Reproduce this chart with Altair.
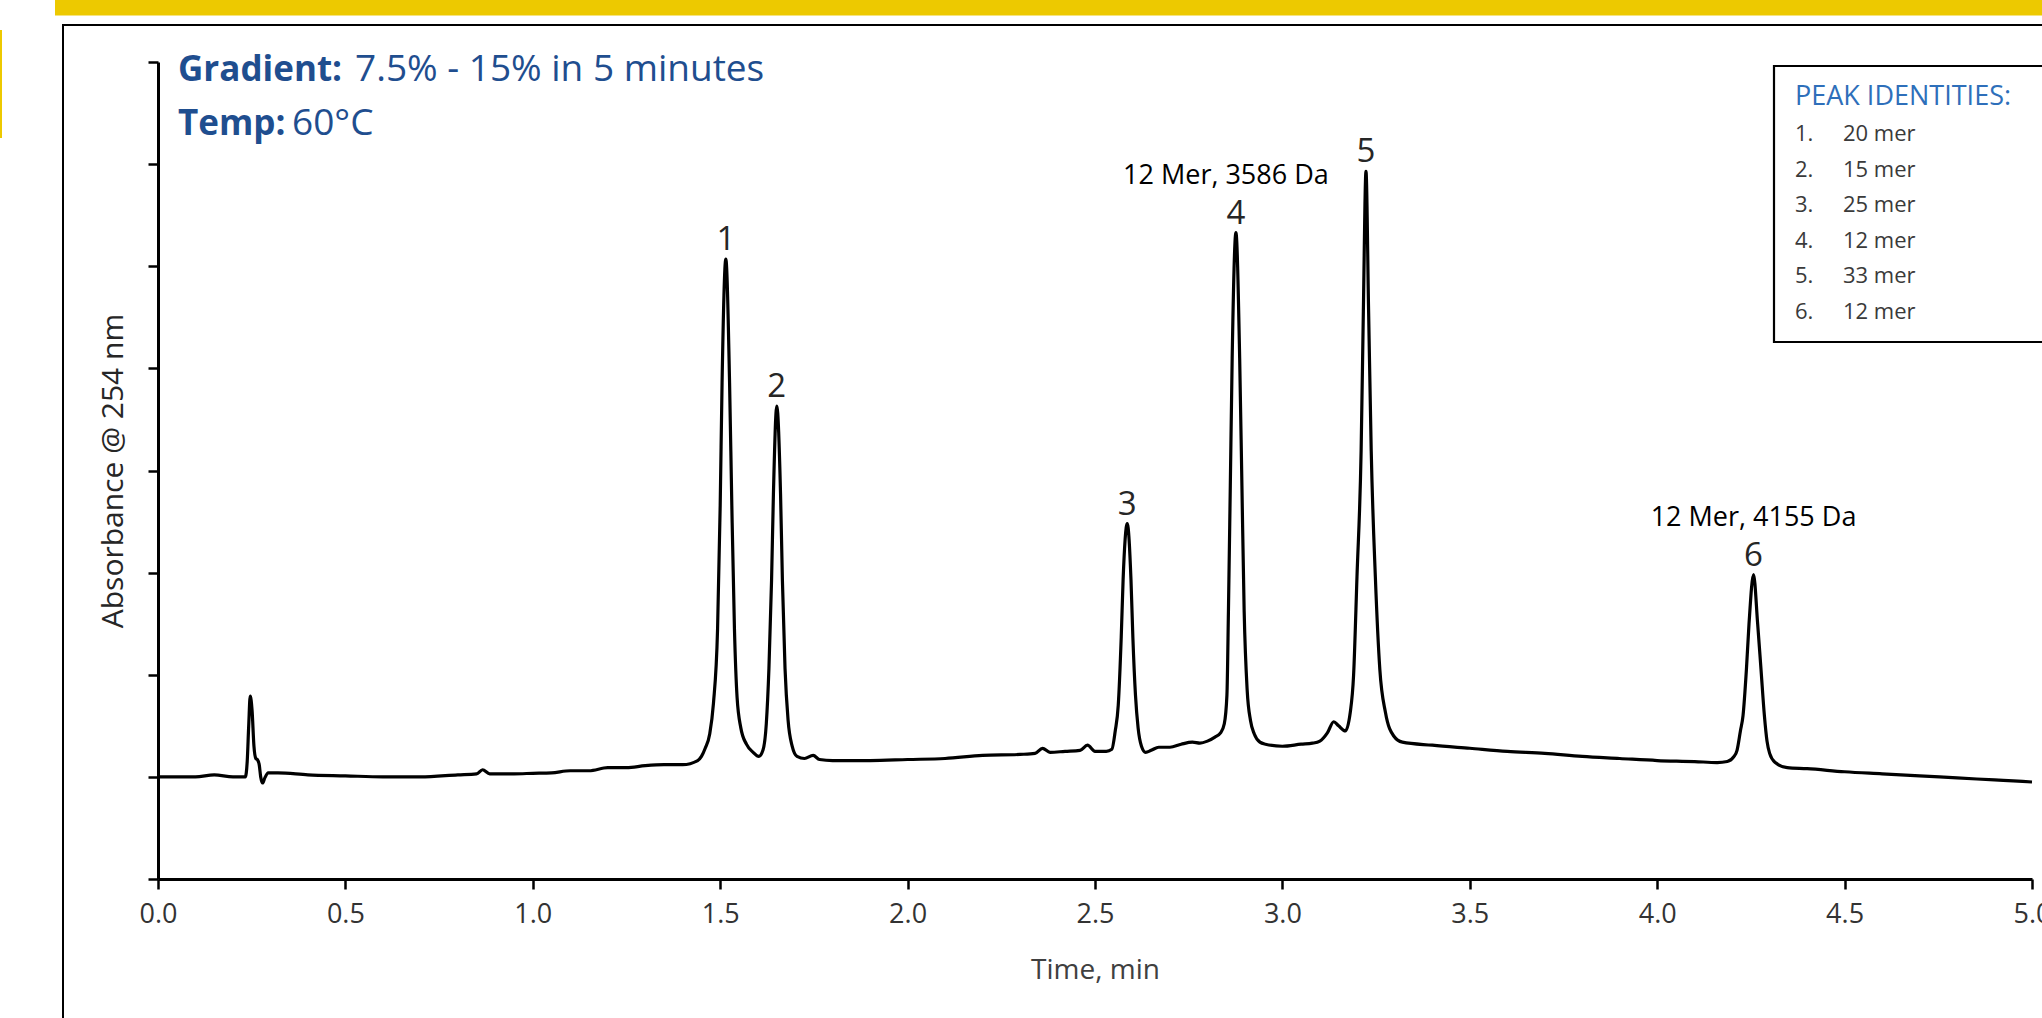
import altair as alt
import pandas as pd

# ---------------- data ----------------
time_min = [
    0.00, 0.05, 0.10, 0.15, 0.20, 0.233, 0.238, 0.242, 0.246, 0.251, 0.256, 0.261,
    0.265, 0.270, 0.274, 0.279, 0.285, 0.294, 0.32, 0.40, 0.50, 0.60, 0.70, 0.80,
    0.850, 0.866, 0.885, 0.95, 1.00, 1.05, 1.10, 1.15, 1.20, 1.25, 1.30, 1.35,
    1.40, 1.44, 1.450,
    1.460, 1.472, 1.482, 1.493, 1.500, 1.505, 1.515, 1.525, 1.531, 1.538, 1.545,
    1.555, 1.570, 1.588, 1.603,
    1.614, 1.623, 1.630, 1.637, 1.642, 1.651, 1.661, 1.666, 1.673, 1.681, 1.692,
    1.705, 1.725, 1.748, 1.765,
    1.80, 1.90, 2.00, 2.10, 2.20, 2.30, 2.34, 2.36, 2.38, 2.42, 2.46, 2.48, 2.50,
    2.53,
    2.545, 2.554, 2.562, 2.570, 2.575, 2.586, 2.596, 2.601, 2.608, 2.615, 2.624,
    2.635, 2.65,
    2.67, 2.70, 2.73, 2.76, 2.78, 2.80, 2.82,
    2.835, 2.845, 2.852, 2.856, 2.861, 2.866, 2.876, 2.886, 2.892, 2.898, 2.906,
    2.915, 2.925, 2.940, 2.955,
    3.00, 3.05, 3.08, 3.10, 3.12, 3.137, 3.150, 3.168,
    3.181, 3.190, 3.199, 3.210, 3.216, 3.223, 3.230, 3.237, 3.248, 3.260, 3.275,
    3.297, 3.32,
    3.40, 3.50, 3.60, 3.70, 3.80, 3.90, 4.00, 4.10, 4.16,
    4.187, 4.205, 4.213, 4.222, 4.229, 4.238, 4.245, 4.257, 4.268, 4.277, 4.286,
    4.293, 4.300, 4.315, 4.347,
    4.40, 4.50, 4.60, 4.70, 4.80, 4.90, 4.95, 5.00,
]
absorbance = [
    10.0, 10.0, 10.0, 10.2, 10.0, 10.0, 11.5, 15.0, 17.9, 16.5, 13.0, 11.8,
    11.7, 11.2, 10.0, 9.4, 9.9, 10.4, 10.4, 10.2, 10.1, 10.0, 10.0, 10.2,
    10.3, 10.7, 10.3, 10.3, 10.35, 10.4, 10.6, 10.6, 10.9, 10.9, 11.1, 11.2,
    11.2, 11.6, 12.0,
    12.8, 14.2, 17.2, 24.5, 36.6, 48.6, 60.7, 48.6, 36.6, 24.5, 17.8,
    14.8, 13.2, 12.4, 12.0,
    12.6, 15.2, 20.6, 29.2, 37.7, 46.3, 37.7, 29.2, 20.6, 15.6, 13.0,
    12.0, 11.8, 12.1, 11.7,
    11.6, 11.6, 11.7, 11.8, 12.1, 12.2, 12.3, 12.8, 12.4, 12.5, 12.6, 13.1, 12.5,
    12.5,
    12.7, 14.5, 17.0, 23.7, 29.3, 34.8, 29.3, 23.7, 18.0, 14.8, 13.0,
    12.4, 12.6,
    12.9, 12.9, 13.2, 13.4, 13.3, 13.5, 13.9,
    14.3, 15.2, 18.0, 26.2, 38.5, 51.0, 63.3, 51.0, 38.5, 26.2, 18.5,
    15.5, 14.2, 13.4, 13.2,
    13.0, 13.2, 13.3, 13.5, 14.3, 15.4, 15.0, 14.5,
    16.3, 20.0, 29.6, 41.9, 55.6, 69.3, 55.6, 41.9, 29.6, 20.5, 16.3,
    14.0, 13.4,
    13.1, 12.8, 12.5, 12.3, 12.0, 11.8, 11.6, 11.5, 11.4,
    11.5, 12.0, 12.6, 14.5, 16.0, 20.5, 25.0, 29.8, 25.0, 20.5, 16.0,
    13.5, 12.3, 11.4, 10.9,
    10.8, 10.5, 10.3, 10.1, 9.9, 9.7, 9.6, 9.5,
]

peak_numbers = ["1", "2", "3", "4", "5", "6"]
peak_times = [1.515, 1.651, 2.586, 2.876, 3.223, 4.257]
peak_heights = [60.7, 46.3, 34.8, 63.3, 69.3, 29.8]
peak_names = ["20 mer", "15 mer", "25 mer", "12 mer", "33 mer", "12 mer"]
mass_notes = ["", "", "", "12 Mer, 3586 Da", "", "12 Mer, 4155 Da"]
note_shift = [0, 0, 0, -10, 0, 0]

x_ticks = [0.0, 0.5, 1.0, 1.5, 2.0, 2.5, 3.0, 3.5, 4.0, 4.5, 5.0]
y_ticks = [0, 10, 20, 30, 40, 50, 60, 70, 80]

x_title = "Time, min"
y_title = "Absorbance @ 254 nm"
legend_title = "PEAK IDENTITIES:"
header_lines = [("Gradient:", "7.5% - 15% in 5 minutes"), ("Temp:", "60°C")]

# ---------------- styling ----------------
FONT = "Open Sans"
W, H = 1874, 817
DARK_BLUE = "#1F4E8F"
LIGHT_BLUE = "#2E6FBA"
YELLOW = "#EDC900"
TXT = "#262626"

trace = pd.DataFrame({"t": time_min, "a": absorbance})
peaks = pd.DataFrame({"t": peak_times, "a": peak_heights, "num": peak_numbers})
legend_rows = pd.DataFrame({
    "row": list(range(len(peak_names))),
    "num": [f"{n}." for n in peak_numbers],
    "name": peak_names,
})
one = pd.DataFrame({"k": [0]})

x_enc = alt.X(
    "t:Q",
    scale=alt.Scale(domain=[0, 5], nice=False, zero=False),
    axis=alt.Axis(
        values=x_ticks, format=".1f", title=x_title, grid=False,
        domainColor="black", domainWidth=3, tickColor="black", tickWidth=2.5,
        tickSize=10, labelFont=FONT, labelFontSize=27, labelColor="#333333",
        labelPadding=12, labelFlush=False,
        titleFont=FONT, titleFontSize=28, titleFontWeight="normal", titleColor="#404040",
        titleX=937, titleY=91, titleBaseline="middle",
    ),
)
y_enc = alt.Y(
    "a:Q",
    scale=alt.Scale(domain=[0, 80], nice=False, zero=False),
    axis=alt.Axis(
        values=y_ticks, labels=False, title=y_title, grid=False,
        domainColor="black", domainWidth=3, tickColor="black", tickWidth=2.5,
        tickSize=10, titleFont=FONT, titleFontSize=30, titleFontWeight="normal",
        titleColor="#262626", titleX=-45, titleY=H / 2, titleBaseline="middle",
    ),
)
y_plain = alt.Y("a:Q", scale=alt.Scale(domain=[0, 80], nice=False, zero=False), axis=None)

line = alt.Chart(trace).mark_line(
    color="black", strokeWidth=3.2, interpolate="monotone"
).encode(x=x_enc, y=y_enc)

peak_labels = alt.Chart(peaks).mark_text(
    font=FONT, fontSize=33, baseline="alphabetic", dy=-9, color=TXT
).encode(x="t:Q", y=y_plain, text="num:N")

note_layers = []
for t, h, n, s in zip(peak_times, peak_heights, mass_notes, note_shift):
    if not n:
        continue
    note_layers.append(alt.Chart(pd.DataFrame({"t": [t], "a": [h], "note": [n]})).mark_text(
        font=FONT, fontSize=27, baseline="alphabetic", dy=-49, dx=s, color="black"
    ).encode(x="t:Q", y=y_plain, text="note:N"))

# decorations (slide frame)
band = alt.Chart(one).mark_rect(color=YELLOW).encode(
    x=alt.value(-103), x2=alt.value(W + 40), y=alt.value(-62), y2=alt.value(-46.5)
)
side = alt.Chart(one).mark_rect(color=YELLOW).encode(
    x=alt.value(-158), x2=alt.value(-156), y=alt.value(-32), y2=alt.value(76)
)
frame = alt.Chart(one).mark_rect(fill=None, stroke="black", strokeWidth=2).encode(
    x=alt.value(-95), x2=alt.value(W + 40), y=alt.value(-37), y2=alt.value(H + 200)
)

# header text
header = []
for (bold, rest), yy, bw in zip(header_lines, [8, 62], [177, 114]):
    header.append(alt.Chart(one).mark_text(
        font=FONT, fontSize=35, fontWeight="bold", align="left", baseline="middle", color=DARK_BLUE
    ).encode(x=alt.value(20), y=alt.value(yy), text=alt.value(bold)))
    header.append(alt.Chart(one).mark_text(
        font=FONT, fontSize=37, align="left", baseline="middle", color=DARK_BLUE
    ).encode(x=alt.value(20 + bw), y=alt.value(yy), text=alt.value(rest)))

# peak identity box
box = alt.Chart(one).mark_rect(fill="white", stroke="black", strokeWidth=2.2).encode(
    x=alt.value(1616), x2=alt.value(W + 40), y=alt.value(4), y2=alt.value(280)
)
box_title = alt.Chart(one).mark_text(
    font=FONT, fontSize=27, align="left", baseline="middle", color=LIGHT_BLUE
).encode(x=alt.value(1637), y=alt.value(35), text=alt.value(legend_title))
row_y = alt.Y("row:O", scale=alt.Scale(type="point", range=[72, 250], padding=0), axis=None)
box_nums = alt.Chart(legend_rows).mark_text(
    font=FONT, fontSize=22, align="left", baseline="middle", color="#3A3A3A"
).encode(x=alt.value(1637), y=row_y, text="num:N")
box_names = alt.Chart(legend_rows).mark_text(
    font=FONT, fontSize=22, align="left", baseline="middle", color="#3A3A3A"
).encode(x=alt.value(1685), y=row_y, text="name:N")

chart = alt.layer(
    band, side, frame, line, peak_labels, *note_layers, *header,
    box, box_title, box_nums, box_names,
).resolve_scale(y="independent").properties(
    width=W, height=H,
    autosize=alt.AutoSizeParams(type="none"),
    padding={"left": 158, "top": 62, "right": 10, "bottom": 139},
    background="white",
).configure_view(strokeWidth=0)

chart.save("out.html", embed_options={"renderer": "svg", "actions": False})
